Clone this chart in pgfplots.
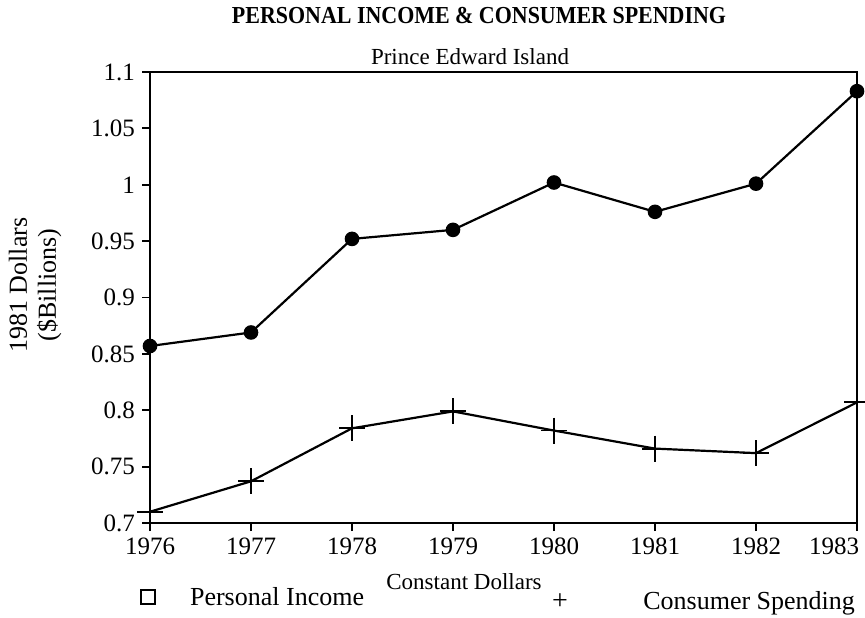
\documentclass[border=0pt]{standalone}
\usepackage{fontspec}
\setmainfont{Liberation Serif}
\newfontfamily\titlefont[FakeStretch=0.9]{Liberation Serif}
\usepackage{pgfplots}
\pgfplotsset{compat=1.18}
\begin{document}
\begin{tikzpicture}
\begin{axis}[
  at={(75pt,-261.5pt)}, anchor=south west,
  scale only axis, width=353.5pt, height=225.5pt,
  xmin=1976, xmax=1983, ymin=0.7, ymax=1.1,
  axis line style={line width=1.2pt},
  xtick={1976,1977,1978,1979,1980,1981,1982,1983},
  xticklabels={1976,1977,1978,1979,1980,1981,1982,\makebox[0pt][r]{1983\hspace{-1pt}}},
  ytick={0.7,0.75,0.8,0.85,0.9,0.95,1,1.05,1.1},
  yticklabels={0.7,0.75,0.8,0.85,0.9,0.95,1,1.05,1.1},
  tick align=outside, xtick pos=bottom, ytick pos=left,
  major tick length=4pt,
  tick style={line width=0.9pt, black},
  ticklabel style={font=\fontsize{12.5}{14}\selectfont},
  clip=false,
]
\addplot[line width=1.1pt, mark=*, mark size=3.1pt] coordinates {
  (1976,0.857) (1977,0.869) (1978,0.952) (1979,0.960)
  (1980,1.002) (1981,0.976) (1982,1.001) (1983,1.083)
};
\addplot[line width=1.1pt, mark=+, mark size=6.5pt, mark options={line width=0.9pt}] coordinates {
  (1976,0.710) (1977,0.737) (1978,0.784) (1979,0.799)
  (1980,0.782) (1981,0.766) (1982,0.762) (1983,0.807)
};
\end{axis}
\begin{scope}[x=0.5pt,y=-0.5pt]
  \node[font=\titlefont\fontsize{12.2}{14}\selectfont\bfseries] at (479,15) {PERSONAL INCOME \& CONSUMER SPENDING};
  \node[font=\fontsize{11.5}{13}\selectfont] at (470,57) {Prince Edward Island};
  \node[font=\fontsize{13}{14.5}\selectfont, align=center, rotate=90] at (35,285) {1981 Dollars\\(\$Billions)};
  \node[draw, line width=0.8pt, minimum size=7pt, inner sep=0pt] at (148,597) {};
  \node[font=\fontsize{13}{14}\selectfont, anchor=west] at (183,597) {Personal Income};
  \node[font=\fontsize{11.5}{13}\selectfont, anchor=east, inner sep=0pt] at (542,582) {Constant Dollars};
  \node[font=\fontsize{14}{14}\selectfont] at (560,602) {+};
  \node[font=\fontsize{13}{14}\selectfont, anchor=east] at (862,603) {Consumer Spending};
  \pgfresetboundingbox
  \path[use as bounding box] (0,0) rectangle (865,617);
\end{scope}
\end{tikzpicture}
\end{document}
